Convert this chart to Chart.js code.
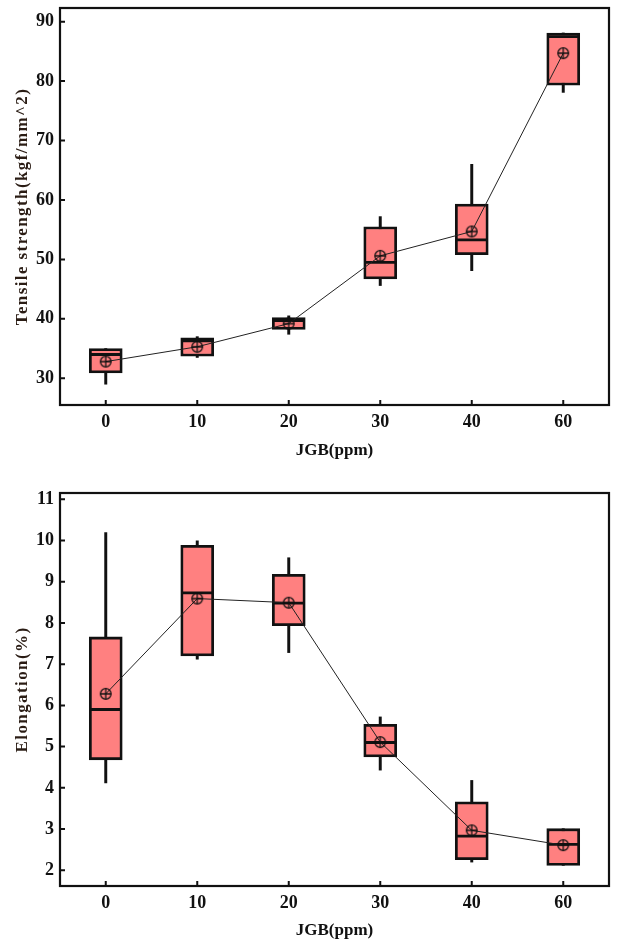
<!DOCTYPE html>
<html>
<head>
<meta charset="utf-8">
<script src="https://cdn.jsdelivr.net/npm/chart.js@4.4.1/dist/chart.umd.min.js"></script>
<style>
    body { margin: 0; background: #fff; }
    #caixa1 { position: relative; width: 623px; height: 470px; }
    #caixa2 { position: relative; width: 623px; height: 472px; }
</style>
</head>
<body>
<div id="caixa1"><canvas id="graficoTensao"></canvas></div>
<div id="caixa2"><canvas id="graficoAlong"></canvas></div>
<script>
// categorias (JGB ppm)
var jgb = ['0', '10', '20', '30', '40', '60'];

// Tensile strength (kgf/mm^2)
var tsMin  = [29.0, 33.5, 37.4, 45.6, 48.1, 78.1];
var tsQ1   = [30.9, 33.7, 38.2, 46.7, 50.8, 79.3];
var tsMed  = [34.0, 36.3, 39.7, 49.5, 53.3, 87.5];
var tsQ3   = [35.0, 36.8, 40.2, 55.5, 59.3, 88.1];
var tsMax  = [35.0, 37.0, 40.5, 57.2, 66.0, 88.1];
var tsMean = [32.8, 35.3, 39.2, 50.6, 54.7, 84.7];
var tsTicks = [30, 40, 50, 60, 70, 80, 90];

// Elongation (%)
var elMin  = [4.12, 7.12, 7.28, 4.43, 2.20, 2.12];
var elQ1   = [4.68, 7.20, 7.93, 4.75, 2.26, 2.12];
var elMed  = [5.90, 8.73, 8.48, 5.10, 2.83, 2.63];
var elQ3   = [7.66, 9.88, 9.18, 5.54, 3.66, 3.01];
var elMax  = [10.19, 9.99, 9.58, 5.72, 4.18, 3.01];
var elMean = [6.28, 8.59, 8.49, 5.11, 2.97, 2.61];
var elTicks = [2, 3, 4, 5, 6, 7, 8, 9, 10, 11];

var fonte = "'Liberation Serif', 'Times New Roman', serif";

function marcaMedia() {
    var c = document.createElement('canvas');
    c.width = 14; c.height = 14;
    var g = c.getContext('2d');
    g.strokeStyle = '#111';
    g.lineWidth = 1.3;
    g.beginPath(); g.arc(7, 7, 5.3, 0, Math.PI * 2); g.stroke();
    g.beginPath();
    g.moveTo(7, 1.5); g.lineTo(7, 12.5);
    g.moveTo(1.5, 7); g.lineTo(12.5, 7);
    g.stroke();
    return c;
}

// moldura + ticks para dentro
var moldura = {
    id: 'moldura',
    afterDraw: function (chart) {
        var ctx = chart.ctx, a = chart.chartArea;
        var sx = chart.scales.x, sy = chart.scales.y;
        ctx.save();
        ctx.strokeStyle = '#111';
        ctx.lineWidth = 2.2;
        ctx.strokeRect(a.left, a.top, a.right - a.left, a.bottom - a.top);
        ctx.lineWidth = 2;
        ctx.beginPath();
        sx.ticks.forEach(function (t, i) {
            var x = sx.getPixelForTick(i);
            ctx.moveTo(x, a.bottom); ctx.lineTo(x, a.bottom - 5);
        });
        sy.ticks.forEach(function (t, i) {
            var y = sy.getPixelForTick(i);
            ctx.moveTo(a.left, y); ctx.lineTo(a.left + 5, y);
        });
        ctx.stroke();
        ctx.restore();
    }
};

// titulo do eixo y com espacamento entre letras
var tituloEspacado = {
    id: 'tituloEspacado',
    beforeDraw: function (chart) {
        var s = chart.scales.y;
        if (s._espacado) return;
        var orig = s.drawTitle.bind(s);
        s.drawTitle = function () {
            chart.ctx.save();
            chart.ctx.letterSpacing = '1.4px';
            orig();
            chart.ctx.restore();
        };
        s._espacado = true;
    }
};

function montaGrafico(id, mins, q1, med, q3, maxs, medias, ticks, yMin, yMax, tituloY, padTop, padBottom, altX) {
    var ctx = document.getElementById(id);
    return new Chart(ctx, {
        type: 'bar',
        data: {
            labels: jgb,
            datasets: [{
                type: 'line',
                data: medias,
                borderColor: '#222',
                borderWidth: 1,
                pointStyle: marcaMedia(),
                tension: 0,
                order: 1
            }, {
                type: 'line',
                data: med,
                showLine: false,
                pointStyle: 'line',
                pointRadius: 15,
                pointBorderWidth: 2.8,
                pointBorderColor: '#111',
                order: 2
            }, {
                data: q1.map(function (v, i) { return [v, q3[i]]; }),
                backgroundColor: '#ff8080',
                borderColor: '#111',
                borderWidth: 2.8,
                borderSkipped: false,
                barThickness: 33,
                grouped: false,
                order: 3
            }, {
                data: mins.map(function (v, i) { return [v, maxs[i]]; }),
                backgroundColor: '#111',
                borderWidth: 0,
                barThickness: 2.3,
                grouped: false,
                order: 4
            }]
        },
        options: {
            responsive: true,
            maintainAspectRatio: false,
            animation: false,
            events: [],
            layout: { autoPadding: false, padding: { left: 0, right: 14, top: padTop, bottom: padBottom } },
            plugins: { legend: { display: false }, tooltip: { enabled: false } },
            scales: {
                x: {
                    offset: true,
                    grid: { display: false, drawTicks: false },
                    border: { display: false },
                    ticks: { color: '#111', padding: 7, font: { family: fonte, size: 18, weight: 'bold' } },
                    title: {
                        display: true, text: 'JGB(ppm)', color: '#111',
                        font: { family: fonte, size: 17, weight: 'bold' },
                        padding: { top: 0, bottom: 0 }
                    },
                    afterFit: function (s) { s.height = altX; s.paddingLeft = 0; s.paddingRight = 0; }
                },
                y: {
                    min: yMin,
                    max: yMax,
                    grid: { display: false, drawTicks: false },
                    border: { display: false },
                    afterBuildTicks: function (s) {
                        s.ticks = ticks.map(function (v) { return { value: v }; });
                    },
                    ticks: { color: '#111', padding: 6, font: { family: fonte, size: 18, weight: 'bold' } },
                    title: {
                        display: true, text: tituloY, color: '#2a1c14',
                        font: { family: fonte, size: 17, weight: 'bold' },
                        padding: { top: 12, bottom: 0 }
                    },
                    afterFit: function (s) { s.width = 60; s.paddingTop = 0; s.paddingBottom = 0; }
                }
            }
        },
        plugins: [moldura, tituloEspacado]
    });
}

montaGrafico('graficoTensao', tsMin, tsQ1, tsMed, tsQ3, tsMax, tsMean, tsTicks,
    25.5, 92.3, 'Tensile strength(kgf/mm^2)', 8, 9, 56);
montaGrafico('graficoAlong', elMin, elQ1, elMed, elQ3, elMax, elMean, elTicks,
    1.62, 11.15, 'Elongation(%)', 23, 1, 55);
</script>
</body>
</html>
